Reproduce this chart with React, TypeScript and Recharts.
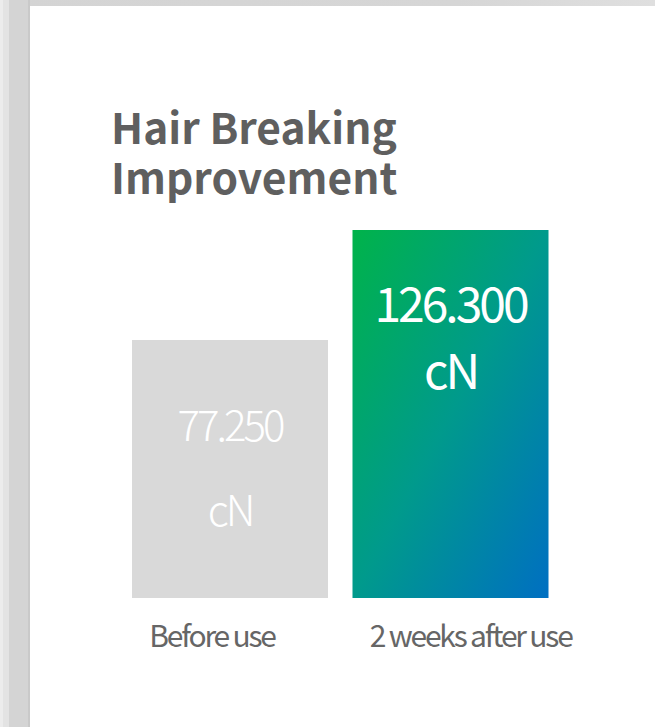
import { BarChart, Bar, XAxis, YAxis, Cell, LabelList } from "recharts";

const categories = ["Before use", "2 weeks after use"];
const values = [77.25, 126.3];
const valueTexts = ["77.250", "126.300"];
const unit = "cN";
const titleLines = ["Hair Breaking", "Improvement"];

const FONT = '"Noto Sans CJK KR", "Noto Sans", sans-serif';
const Y_MIN = -37.8;

// per-bar label styling (first line offset from bar top, line gap)
const LABEL_STYLE = [
  { first: 83, gap: 85, size: 42, weight: 300 },
  { first: 71, gap: 67, size: 48, weight: 400 },
];

const data = categories.map((name, i) => ({ name, value: values[i], text: valueTexts[i] }));

function BarShape(props: any) {
  const { x, y, width, background, index } = props;
  const bottom = background ? background.y + background.height : 598;
  return (
    <rect
      x={x}
      y={y}
      width={width}
      height={bottom - y}
      fill={index === 1 ? "url(#afterGrad)" : "#d9d9d9"}
    />
  );
}

function ValueLabel(props: any) {
  const { x, y, width, index } = props;
  const s = LABEL_STYLE[index];
  const cx = x + width / 2;
  const common = {
    x: cx,
    textAnchor: "middle" as const,
    dominantBaseline: "central" as const,
    fill: "#fff",
    fontFamily: FONT,
    fontSize: s.size,
    fontWeight: s.weight,
    letterSpacing: -3,
  };
  return (
    <g>
      <text {...common} y={y + s.first}>{data[index].text}</text>
      <text {...common} y={y + s.first + s.gap}>{unit}</text>
    </g>
  );
}

function Tick(props: any) {
  const { x, payload } = props;
  return (
    <text
      x={x - 81}
      y={634}
      textAnchor="start"
      dominantBaseline="central"
      fill="#666"
      fontFamily={FONT}
      fontSize={30}
      letterSpacing={-2.2}
    >
      {payload.value}
    </text>
  );
}

export default function App() {
  return (
    <div style={{ position: "fixed", left: 0, top: 0, width: 655, height: 727, background: "#fff", overflow: "hidden" }}>
      <div style={{ position: "absolute", left: 0, top: 0, width: 655, height: 6, background: "linear-gradient(90deg, #d4d4d4, #d6d6d6 70%, #dfdfdf)" }} />
      <div style={{ position: "absolute", left: 0, top: 0, width: 3, height: 727, background: "#ececec" }} />
      <div style={{ position: "absolute", left: 3, top: 0, width: 6, height: 727, background: "#e3e3e3" }} />
      <div style={{ position: "absolute", left: 9, top: 0, width: 19, height: 727, background: "#d4d4d4" }} />
      <div style={{ position: "absolute", left: 28, top: 0, width: 2, height: 727, background: "#c9c9c9" }} />
      {titleLines.map((line, i) => (
        <div
          key={line}
          style={{
            position: "absolute",
            left: 111,
            top: 103 + i * 50,
            fontFamily: FONT,
            fontWeight: 700,
            fontSize: 42.5,
            lineHeight: "46px",
            height: 46,
            color: "#5f5f5f",
            whiteSpace: "nowrap",
          }}
        >
          {line}
        </div>
      ))}
      <div style={{ position: "absolute", left: 0, top: 0 }}>
        <BarChart
          width={655}
          height={727}
          data={data}
          margin={{ top: 230, right: 94, left: 120, bottom: 69 }}
          barSize={196}
        >
          <defs>
            <linearGradient id="afterGrad" x1="0" y1="0" x2="1" y2="1">
              <stop offset="0%" stopColor="#00b34a" />
              <stop offset="50%" stopColor="#009a8c" />
              <stop offset="100%" stopColor="#006fc2" />
            </linearGradient>
          </defs>
          <XAxis dataKey="name" axisLine={false} tickLine={false} height={60} tick={<Tick />} interval={0} />
          <YAxis hide domain={[Y_MIN, 126.3]} />
          <Bar dataKey="value" isAnimationActive={false} shape={<BarShape />}>
            {data.map((_, i) => (
              <Cell key={i} />
            ))}
            <LabelList dataKey="value" content={<ValueLabel />} />
          </Bar>
        </BarChart>
      </div>
    </div>
  );
}
